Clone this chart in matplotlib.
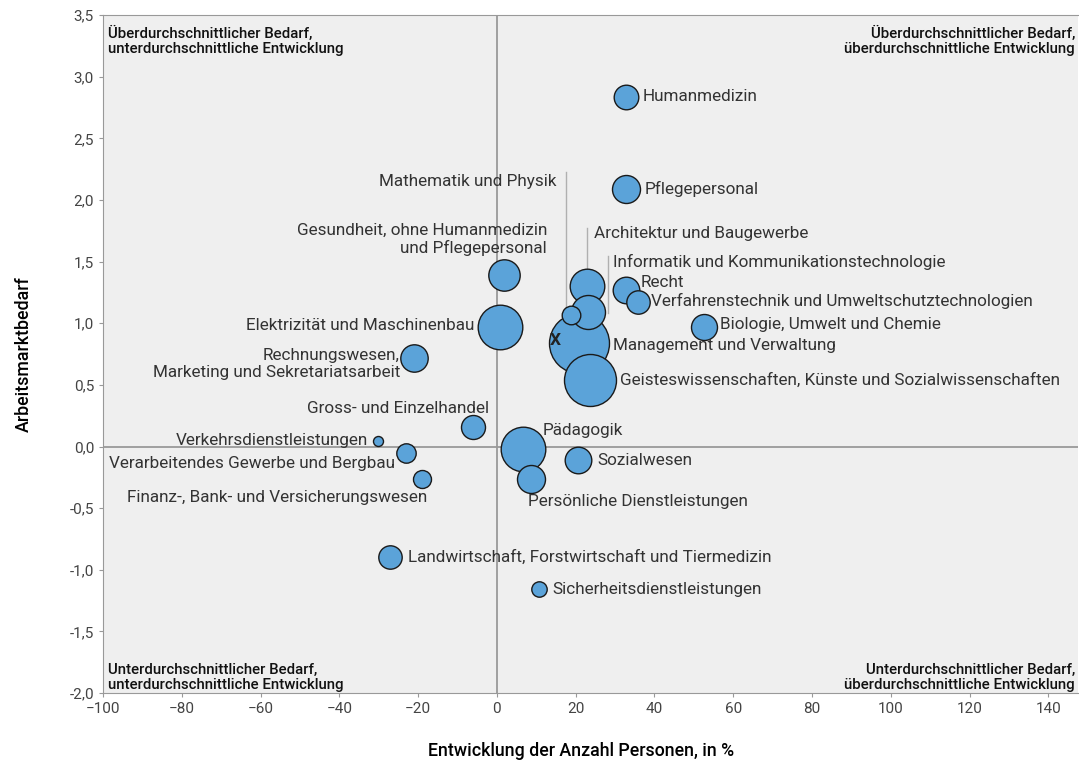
import numpy as np
import matplotlib.pyplot as plt
from matplotlib.ticker import FuncFormatter

plt.rcParams['font.family'] = ['Roboto', 'DejaVu Sans']

# Daten
felder = ['Humanmedizin', 'Pflegepersonal', 'Gesundheit, ohne Humanmedizin\nund Pflegepersonal',
          'Elektrizität und Maschinenbau', 'Rechnungswesen,\nMarketing und Sekretariatsarbeit',
          'Verkehrsdienstleistungen', 'Verarbeitendes Gewerbe und Bergbau',
          'Finanz-, Bank- und Versicherungswesen', 'Landwirtschaft, Forstwirtschaft und Tiermedizin',
          'Sicherheitsdienstleistungen', 'Pädagogik', 'Persönliche Dienstleistungen', 'Sozialwesen',
          'Gross- und Einzelhandel', 'Geisteswissenschaften, Künste und Sozialwissenschaften',
          'Management und Verwaltung', 'Informatik und Kommunikationstechnologie',
          'Architektur und Baugewerbe', 'Mathematik und Physik', 'Recht',
          'Verfahrenstechnik und Umweltschutztechnologien', 'Biologie, Umwelt und Chemie']
entwicklung = [32.7, 32.7, 1.8, 0.8, -21.1, -30.1, -23.2, -19.1, -27.2, 10.7, 6.7, 8.7, 20.7,
               -6.2, 23.6, 20.8, 23.1, 22.8, 18.7, 32.7, 35.7, 52.6]
bedarf = [2.84, 2.09, 1.39, 0.97, 0.72, 0.045, -0.055, -0.26, -0.90, -1.16, -0.02, -0.26, -0.11,
          0.16, 0.54, 0.84, 1.09, 1.30, 1.07, 1.27, 1.17, 0.97]
groesse = [12.3, 14, 15.7, 22.3, 13.7, 5, 9.7, 9, 11.7, 7.7, 22.3, 14, 13.3,
           12, 26, 30, 17, 17.3, 9.3, 13.3, 11.7, 13]

# Beschriftungen: (x, y, ha)
label_pos = [(37.1, 2.84, 'left'), (37.6, 2.09, 'left'), (12.7, 1.68, 'right'),
             (-5.8, 0.98, 'right'), (-24.6, 0.67, 'right'), (-32.7, 0.045, 'right'),
             (-25.9, -0.14, 'right'), (-17.8, -0.41, 'right'), (-22.6, -0.90, 'left'),
             (14.0, -1.16, 'left'), (11.7, 0.13, 'left'), (7.9, -0.45, 'left'),
             (25.6, -0.11, 'left'), (-2.0, 0.31, 'right'), (31.2, 0.54, 'left'),
             (29.4, 0.82, 'left'), (29.4, 1.50, 'left'), (24.6, 1.73, 'left'),
             (15.2, 2.15, 'right'), (36.5, 1.33, 'left'), (39.1, 1.18, 'left'),
             (56.6, 0.99, 'left')]

# Hinweislinien: (x, y_oben, y_unten)
leader = [(17.5, 2.23, 1.11), (22.8, 1.77, 1.44), (28.2, 1.55, 1.08)]

mittel_x, mittel_y = 14.7, 0.86

fig = plt.figure(figsize=(10.79, 7.62), dpi=100)
ax = fig.add_axes([0.0955, 0.0906, 0.9035, 0.8894])
ax.set_facecolor('#efefef')

ax.axhline(0, color='#999999', lw=1.3, zorder=1)
ax.axvline(0, color='#999999', lw=1.3, zorder=1)

for lx, y0, y1 in leader:
    ax.plot([lx, lx], [y0, y1], color='#b0b0b0', lw=1, zorder=1)

order = np.argsort(groesse)[::-1]
for i in order:
    s = (2 * groesse[i] * 0.72) ** 2
    ax.scatter(entwicklung[i], bedarf[i], s=s, color='#5ba3d9', edgecolor='#1a1a1a',
               linewidth=1, zorder=2)

for name, (lx, ly, ha) in zip(felder, label_pos):
    ax.text(lx, ly, name, ha=ha, va='center', fontsize=12.3, color='#333333',
            multialignment=ha, linespacing=1.15, zorder=3)

ax.text(mittel_x, mittel_y, 'X', ha='center', va='center', fontsize=12.5,
        fontweight='bold', color='#222222', zorder=4)

ax.set_xlim(-100, 147.5)
ax.set_ylim(-2.0, 3.5)
ax.set_xticks(np.arange(-100, 141, 20))
ax.set_yticks(np.arange(-2.0, 3.51, 0.5))
ax.yaxis.set_major_formatter(FuncFormatter(lambda v, p: f'{v:.1f}'.replace('.', ',')))
ax.tick_params(colors='#999999', labelcolor='#444444', labelsize=11, length=3)

for sp in ['left', 'bottom', 'top']:
    ax.spines[sp].set_color('#999999')
ax.spines['right'].set_visible(False)

ax.set_xlabel('Entwicklung der Anzahl Personen, in %', fontsize=12.8, fontweight='medium')
ax.set_ylabel('Arbeitsmarktbedarf', fontsize=12.8, fontweight='medium')
ax.xaxis.set_label_coords(0.49, -0.072)
ax.yaxis.set_label_coords(-0.072, 0.5)

kw = dict(fontsize=10.8, fontweight='medium', color='#111111', transform=ax.transAxes,
          linespacing=1.1)
ax.text(0.005, 0.985, 'Überdurchschnittlicher Bedarf,\nunterdurchschnittliche Entwicklung',
        ha='left', va='top', **kw)
ax.text(0.997, 0.985, 'Überdurchschnittlicher Bedarf,\nüberdurchschnittliche Entwicklung',
        ha='right', va='top', multialignment='right', **kw)
ax.text(0.005, 0.002, 'Unterdurchschnittlicher Bedarf,\nunterdurchschnittliche Entwicklung',
        ha='left', va='bottom', **kw)
ax.text(0.997, 0.002, 'Unterdurchschnittlicher Bedarf,\nüberdurchschnittliche Entwicklung',
        ha='right', va='bottom', multialignment='right', **kw)

fig.savefig('out.png', dpi=100)
